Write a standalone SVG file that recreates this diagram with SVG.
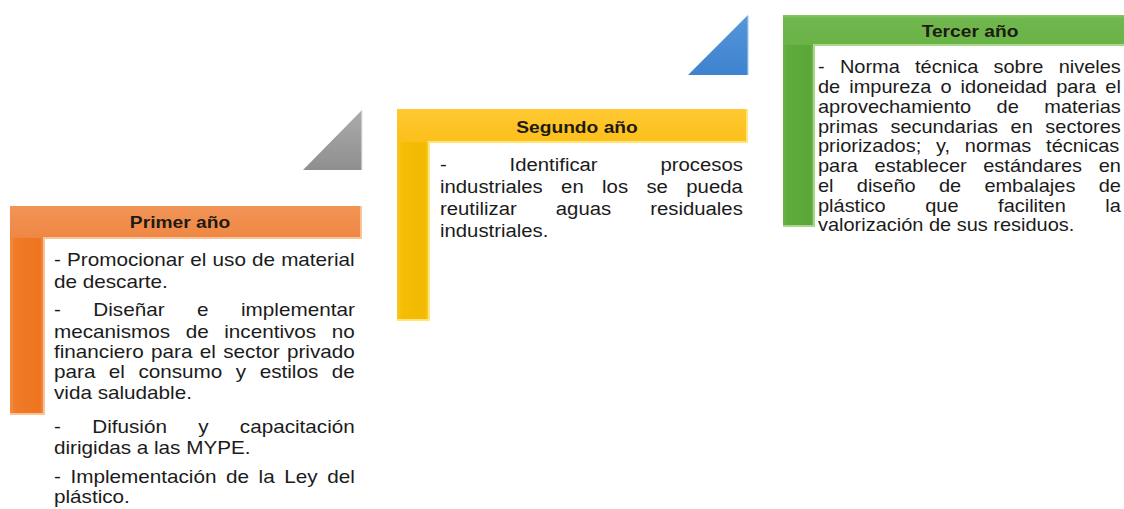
<svg xmlns="http://www.w3.org/2000/svg" width="1124" height="509" viewBox="0 0 1124 509">
  <style>
    .body { font-family: "Liberation Sans", Arial, sans-serif; font-size: 18px; fill: #1b1b1b; }
    .b19 { font-size: 19px; }
    .hdr { font-family: "Liberation Sans", Arial, sans-serif; font-weight: bold; font-size: 17px; fill: #1e1a14; text-anchor: middle; }
    .edgeO { stroke: #F9C39A; stroke-width: 2; fill: none; }
    .edgeY { stroke: #FFE57A; stroke-width: 2; fill: none; }
    .edgeG { stroke: #A8D88C; stroke-width: 2; fill: none; }
  </style>
  <defs>
    <linearGradient id="oBar" x1="0" y1="0" x2="1" y2="0">
      <stop offset="0" stop-color="#F28C42"/>
      <stop offset="0.15" stop-color="#F07A26"/>
      <stop offset="0.85" stop-color="#EE7420"/>
      <stop offset="1" stop-color="#F39A5C"/>
    </linearGradient>
    <linearGradient id="oHdr" x1="0" y1="0" x2="0" y2="1">
      <stop offset="0" stop-color="#F29457"/>
      <stop offset="1" stop-color="#EF8743"/>
    </linearGradient>
    <linearGradient id="yBar" x1="0" y1="0" x2="1" y2="0">
      <stop offset="0" stop-color="#F8C72A"/>
      <stop offset="0.15" stop-color="#F4BE05"/>
      <stop offset="0.85" stop-color="#F2BA00"/>
      <stop offset="1" stop-color="#FAD34A"/>
    </linearGradient>
    <linearGradient id="yHdr" x1="0" y1="0" x2="0" y2="1">
      <stop offset="0" stop-color="#FFC933"/>
      <stop offset="1" stop-color="#FDC01A"/>
    </linearGradient>
    <linearGradient id="gBar" x1="0" y1="0" x2="1" y2="0">
      <stop offset="0" stop-color="#6CB34A"/>
      <stop offset="0.15" stop-color="#5EAA3A"/>
      <stop offset="0.85" stop-color="#5AA636"/>
      <stop offset="1" stop-color="#7CC05C"/>
    </linearGradient>
    <linearGradient id="gHdr" x1="0" y1="0" x2="0" y2="1">
      <stop offset="0" stop-color="#88C46A"/>
      <stop offset="0.12" stop-color="#70B74D"/>
      <stop offset="1" stop-color="#6AB347"/>
    </linearGradient>
    <linearGradient id="blueTri" x1="0" y1="0" x2="0" y2="1">
      <stop offset="0" stop-color="#5596DB"/>
      <stop offset="1" stop-color="#3E83CF"/>
    </linearGradient>
    <linearGradient id="grayTri" x1="0" y1="0" x2="0" y2="1">
      <stop offset="0" stop-color="#ABABAB"/>
      <stop offset="1" stop-color="#8F8F8F"/>
    </linearGradient>
  </defs>

  <rect x="0" y="0" width="1124" height="509" fill="#FFFFFF"/>

  <g id="connectors">
    <polygon points="303,170 362,110 362,170" fill="url(#grayTri)"/>
    <line x1="362" y1="111" x2="362" y2="170" stroke="#E6E6E6" stroke-width="1.2"/>
    <polygon points="688,75 748,15 748,75" fill="url(#blueTri)"/>
    <line x1="748" y1="16" x2="748" y2="75" stroke="#A9CBEE" stroke-width="1.2"/>
  </g>

  <g id="primer-ano">
    <rect x="10" y="206" width="35" height="209" fill="url(#oBar)"/>
    <rect x="10" y="206" width="352" height="32" fill="url(#oHdr)"/>
    <polyline class="edgeO" points="44,414 44,238 361,238 361,206"/>
    <line class="edgeO" x1="10" y1="414" x2="45" y2="414" stroke-width="1.5"/>
    <g transform="translate(180,228) scale(1.13,1)">
      <text class="hdr" x="0" y="0">Primer año</text>
    </g>
    <g class="body" transform="translate(54,0) scale(1.15,1)">
      <text x="0" y="266" style="word-spacing:0.33px">- Promocionar el uso de material</text>
      <text x="0" y="288">de descarte.</text>
      <text x="0" y="316" style="word-spacing:23.23px">- Diseñar e implementar</text>
      <text x="0" y="338" style="word-spacing:8.55px">mecanismos de incentivos no</text>
      <text x="0" y="358" style="word-spacing:1.41px">financiero para el sector privado</text>
      <text x="0" y="378" style="word-spacing:6.73px">para el consumo y estilos de</text>
      <text x="0" y="399">vida saludable.</text>
      <text x="0" y="433" style="word-spacing:22.23px">- Difusión y capacitación</text>
      <text x="0" y="454">dirigidas a las MYPE.</text>
      <text x="0" y="483" style="word-spacing:3.33px">- Implementación de la Ley del</text>
      <text x="0" y="503">plástico.</text>
    </g>
  </g>

  <g id="segundo-ano">
    <rect x="397" y="109" width="33" height="212" fill="url(#yBar)"/>
    <rect x="397" y="109" width="351" height="33" fill="url(#yHdr)"/>
    <polyline class="edgeY" points="429,320 429,142 747,142 747,109"/>
    <line class="edgeY" x1="397" y1="320" x2="430" y2="320" stroke-width="1.5"/>
    <g transform="translate(577,133) scale(1.13,1)">
      <text class="hdr" x="0" y="0">Segundo año</text>
    </g>
    <g class="body b19" transform="translate(440,0) scale(1.07,1)">
      <text x="0" y="171" style="word-spacing:53.42px">- Identificar procesos</text>
      <text x="0" y="193" style="word-spacing:11.92px">industriales en los se pueda</text>
      <text x="0" y="215" style="word-spacing:31.25px">reutilizar aguas residuales</text>
      <text x="0" y="237">industriales.</text>
    </g>
  </g>

  <g id="tercer-ano">
    <rect x="783" y="15" width="32" height="212" fill="url(#gBar)"/>
    <rect x="783" y="15" width="341" height="30" fill="url(#gHdr)"/>
    <polyline class="edgeG" points="814,226 814,45 1124,45"/>
    <line class="edgeG" x1="783" y1="226" x2="815" y2="226" stroke-width="1.5"/>
    <g transform="translate(970,37) scale(1.13,1)">
      <text class="hdr" x="0" y="0">Tercer año</text>
    </g>
    <g class="body" transform="translate(818,0) scale(1.11,1)">
      <text x="0" y="73" style="word-spacing:8.73px">- Norma técnica sobre niveles</text>
      <text x="0" y="93" style="word-spacing:3.17px">de impureza o idoneidad para el</text>
      <text x="0" y="113" style="word-spacing:17.95px">aprovechamiento de materias</text>
      <text x="0" y="133" style="word-spacing:6.3px">primas secundarias en sectores</text>
      <text x="0" y="152" style="word-spacing:8.31px">priorizados; y, normas técnicas</text>
      <text x="0" y="172" style="word-spacing:9.96px">para establecer estándares en</text>
      <text x="0" y="192" style="word-spacing:15.97px">el diseño de embalajes de</text>
      <text x="0" y="212" style="word-spacing:30.64px">plástico que faciliten la</text>
      <text x="0" y="231">valorización de sus residuos.</text>
    </g>
  </g>
</svg>
